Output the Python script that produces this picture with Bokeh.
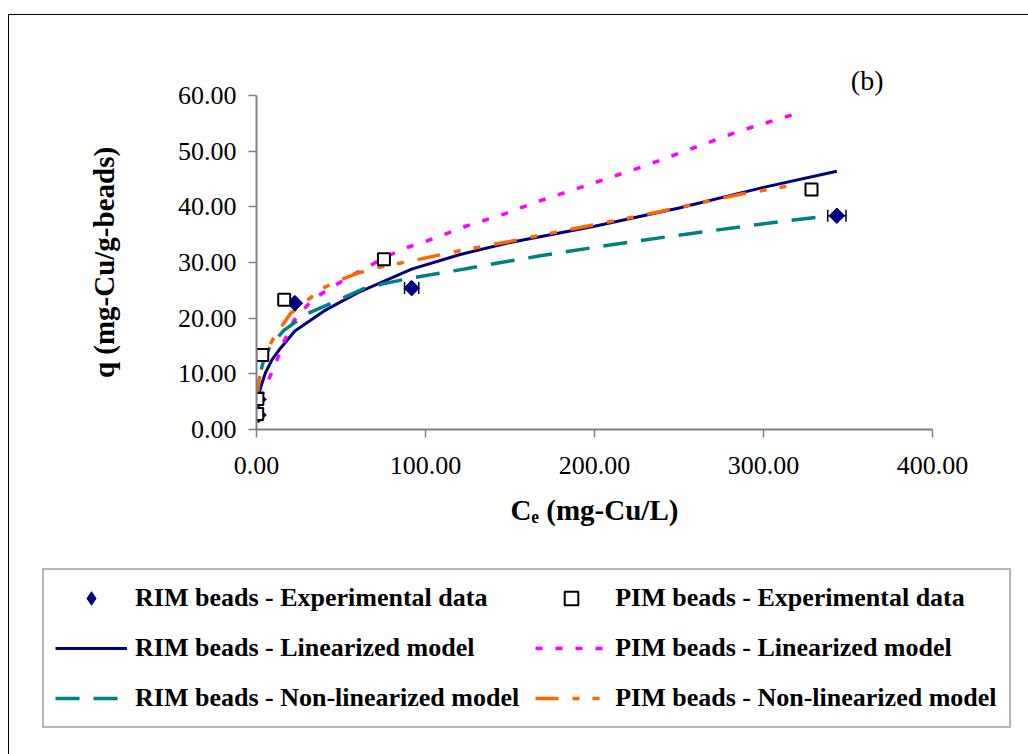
import math
from bokeh.plotting import figure
from bokeh.layouts import column
from bokeh.models import (Range1d, FixedTicker, NumeralTickFormatter, Legend, LegendItem,
                          Whisker, ColumnDataSource, TeeHead)
from bokeh.embed import file_html
from bokeh.resources import INLINE

# Experimental isotherm data (Ce in mg-Cu/L, q in mg-Cu/g-beads)
rim_c = [1.2, 1.2, 22.7, 91.8, 343.4]
rim_q = [2.6, 5.4, 22.7, 25.4, 38.4]
rim_err = [0, 0, 0, 4.2, 5.4]

pim_c = [0.4, 0.5, 3.4, 16.4, 75.4, 328.4]
pim_q = [2.8, 5.5, 13.4, 23.3, 30.6, 43.1]

# Model curves
rim_lin_c = [0.3, 1.0, 2.4, 5.3, 9.3, 14.2, 22.7, 40, 60, 91.8, 120, 150, 200, 250, 300, 343.4]
rim_lin_q = [3.6, 5.6, 7.5, 10.2, 12.6, 14.6, 17.7, 21.3, 24.6, 28.8, 31.4, 33.6, 36.5, 39.8, 43.5, 46.4]

pim_lin_c = [0.3, 1.4, 5.3, 11.2, 16.2, 22, 33, 43.8, 55.7, 65.5, 75.4, 89.2, 101, 124.7, 146.4, 168, 227.4, 286.6, 320]
pim_lin_q = [2.2, 4.9, 7.6, 11.8, 15.7, 19.5, 23.3, 25.4, 27.6, 29.1, 30.9, 32.7, 33.9, 36.6, 38.7, 41.1, 47.1, 53.7, 56.8]

rim_nl_c = [0.3, 1.0, 3.0, 5.0, 9.3, 16.2, 30, 43.8, 63.5, 75.4, 93.1, 116.8, 144.5, 168, 203.7, 247, 306.2, 338.8]
rim_nl_q = [4.0, 7.0, 11.0, 13.3, 15.4, 17.8, 20.8, 22.6, 25.3, 26.2, 27.3, 28.5, 30.0, 31.2, 32.9, 34.8, 37.2, 38.4]

pim_nl_c = [0.3, 1.0, 2.4, 5.3, 9.3, 20, 30, 40, 50, 60, 75, 92, 120, 150, 168, 227, 287, 321.7]
pim_nl_q = [5.5, 8.2, 10.0, 13.6, 16.0, 20.8, 23.2, 25.5, 26.9, 28.1, 29.3, 30.3, 32.1, 33.8, 34.9, 38.4, 42.3, 44.1]

x_ticks = [0, 100, 200, 300, 400]
y_ticks = [0, 10, 20, 30, 40, 50, 60]

SERIF = "Liberation Serif"

# styles shared by the plot and the legend panel
RIM_PTS = dict(marker="square", angle=math.pi / 4, size=11, fill_color="#000080", line_color="#000080")
RIM_KEY = dict(marker="diamond", fill_color="#000080", line_color="#000080")
PIM_PTS = dict(marker="square", size=12, fill_color="white", line_color="black", line_width=2)
RIM_LIN = dict(line_color="#000080", line_width=3)
PIM_LIN = dict(line_color="#FF00FF", line_width=3.5, line_dash="7 13")
RIM_NL = dict(line_color="#008080", line_width=3.5, line_dash="24 14")
PIM_NL = dict(line_color="#FF6600", line_width=3.5, line_dash="23 14 7 13 7 14")

p_main = figure(width=1028, height=545, output_backend="svg", toolbar_location=None,
                x_range=Range1d(0, 400), y_range=Range1d(0, 60),
                min_border_left=256, min_border_right=96, min_border_top=95, min_border_bottom=116)
p_main.frame_align = False
p_main.outline_line_color = None
p_main.grid.visible = False
p_main.background_fill_color = "white"
p_main.border_fill_color = "white"

# panel label in the upper right corner
p_main.title.text = "(b)"
p_main.title.align = "right"
p_main.title.offset = 49
p_main.title.standoff = 0
p_main.title.text_font = SERIF
p_main.title.text_font_style = "normal"
p_main.title.text_font_size = "28px"
p_main.title.text_color = "black"

for ax, ticks in ((p_main.xaxis, x_ticks), (p_main.yaxis, y_ticks)):
    ax.ticker = FixedTicker(ticks=ticks, minor_ticks=[])
    ax.formatter = NumeralTickFormatter(format="0.00")
    ax.axis_line_color = "#808080"
    ax.axis_line_width = 2
    ax.major_tick_line_color = "#808080"
    ax.major_tick_line_width = 1.5
    ax.major_tick_out = 8
    ax.major_tick_in = 0
    ax.minor_tick_line_color = None
    ax.major_label_text_font = SERIF
    ax.major_label_text_font_size = "26px"
    ax.major_label_text_color = "black"
    ax.axis_label_text_font = SERIF
    ax.axis_label_text_font_style = "bold"
    ax.axis_label_text_font_size = "29px"
    ax.axis_label_text_color = "black"

p_main.xaxis.axis_label = "Cₑ (mg-Cu/L)"
p_main.yaxis.axis_label = "q (mg-Cu/g-beads)"
p_main.xaxis.major_label_standoff = 19
p_main.xaxis.axis_label_standoff = 17
p_main.yaxis.major_label_standoff = 12
p_main.yaxis.axis_label_standoff = 55

# Model curves
p_main.line(rim_lin_c, rim_lin_q, **RIM_LIN)
p_main.line(pim_lin_c, pim_lin_q, **PIM_LIN)
p_main.line(rim_nl_c, rim_nl_q, **RIM_NL)
p_main.line(pim_nl_c, pim_nl_q, **PIM_NL)

# Horizontal error bars on the RIM measurements
idx = [i for i, e in enumerate(rim_err) if e > 0]
err_src = ColumnDataSource(dict(
    q=[rim_q[i] for i in idx],
    lo=[rim_c[i] - rim_err[i] for i in idx],
    hi=[rim_c[i] + rim_err[i] for i in idx],
))
p_main.add_layout(Whisker(source=err_src, base="q", lower="lo", upper="hi", dimension="width",
                          line_color="black", line_width=1.5,
                          lower_head=TeeHead(size=12, line_color="black", line_width=1.5),
                          upper_head=TeeHead(size=12, line_color="black", line_width=1.5)))

# Experimental points
p_main.scatter(rim_c, rim_q, **RIM_PTS)
p_main.scatter(pim_c, pim_q, **PIM_PTS)

# Legend panel underneath the plot; its ranges keep the series themselves out of view
p_leg = figure(width=1028, height=209, output_backend="svg", toolbar_location=None,
               x_range=Range1d(-1001, -1000), y_range=Range1d(-1001, -1000),
               min_border=0, min_border_left=0, min_border_right=0,
               min_border_top=0, min_border_bottom=0,
               x_axis_location=None, y_axis_location=None)
p_leg.frame_align = False
p_leg.outline_line_color = None
p_leg.grid.visible = False
p_leg.background_fill_color = "white"
p_leg.border_fill_color = "white"

k_rim = p_leg.scatter(rim_c, rim_q, **RIM_KEY)
k_pim = p_leg.scatter(pim_c, pim_q, **PIM_PTS)
k_rim_lin = p_leg.line(rim_lin_c, rim_lin_q, **RIM_LIN)
k_pim_lin = p_leg.line(pim_lin_c, pim_lin_q, **PIM_LIN)
k_rim_nl = p_leg.line(rim_nl_c, rim_nl_q, **RIM_NL)
k_pim_nl = p_leg.line(pim_nl_c, pim_nl_q, **PIM_NL)

legend = Legend(items=[
    LegendItem(label="RIM beads - Experimental data", renderers=[k_rim]),
    LegendItem(label="RIM beads - Linearized model", renderers=[k_rim_lin]),
    LegendItem(label="RIM beads - Non-linearized model", renderers=[k_rim_nl]),
    LegendItem(label="PIM beads - Experimental data", renderers=[k_pim]),
    LegendItem(label="PIM beads - Linearized model", renderers=[k_pim_lin]),
    LegendItem(label="PIM beads - Non-linearized model", renderers=[k_pim_nl]),
], ncols=2, location=(42, 26), margin=0, padding=11, spacing=16,
    glyph_width=72, glyph_height=34, label_height=34, label_width=383, label_standoff=8,
    label_text_font=SERIF, label_text_font_style="bold", label_text_font_size="26px",
    label_text_color="black",
    border_line_color="#707070", border_line_width=2,
    background_fill_color="white", background_fill_alpha=1.0)
p_leg.add_layout(legend, "center")

p = column(p_main, p_leg, spacing=0)

# outer frame of the chart area (left and top edges fall inside the page)
p.stylesheets = [
    ":host::after { content: ''; position: absolute; left: 8px; top: 14px; "
    "width: 1020px; height: 740px; box-sizing: border-box; "
    "border-left: 1.5px solid black; border-top: 1.5px solid black; "
    "pointer-events: none; z-index: 10; }"
]

open("out.html", "w").write(file_html(p, INLINE))
